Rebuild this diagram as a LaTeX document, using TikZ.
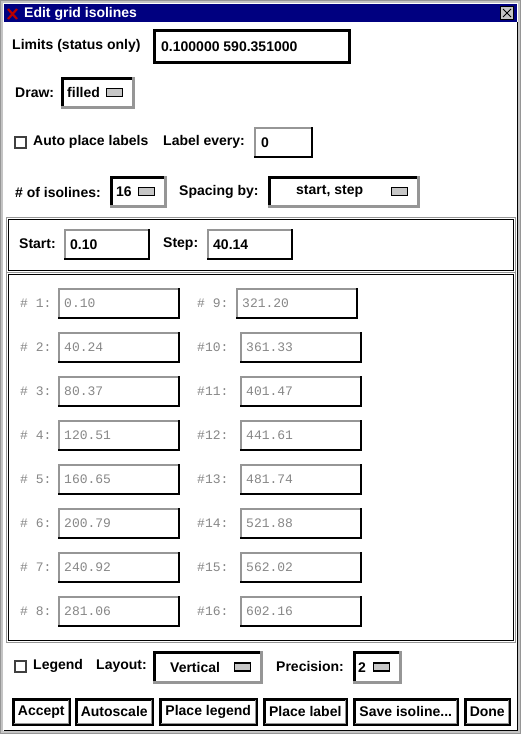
\documentclass[tikz,border=0pt]{standalone}
\usepackage{fontspec}
\setmainfont{Liberation Sans}
\newfontfamily\dimfont{Liberation Mono}
\usetikzlibrary{positioning}
\definecolor{titlenavy}{RGB}{0,0,128}
\definecolor{edgegray}{RGB}{150,150,150}
\definecolor{framegray}{RGB}{196,196,196}
\definecolor{dimgray}{RGB}{135,135,135}
\definecolor{xred}{RGB}{185,0,0}
% two-tone edge round a box node
\newcommand{\bevel}[4][2pt]{%
  \draw[#3, line width=#1, line cap=rect] (#2.south west) -- (#2.north west) -- (#2.north east);
  \draw[#4, line width=#1, line cap=rect] (#2.north east) -- (#2.south east) -- (#2.south west);}
\tikzset{
  lbl/.style={anchor=west, inner sep=0pt, font=\bfseries\fontsize{14}{16}\selectfont},
  dimlbl/.style={anchor=west, inner sep=0pt, text=dimgray, font=\dimfont\fontsize{13}{15}\selectfont},
  box/.style 2 args={anchor=north west, inner sep=0pt, minimum width=#1, minimum height=#2},
  ind/.style={inner sep=0pt, minimum width=16pt, minimum height=8pt, fill=gray!45, draw=black, line width=1.5pt},
  chk/.style={anchor=north west, inner sep=0pt, minimum size=11pt, draw=black!75, line width=1.5pt},
  panel/.style={draw=black, line width=1pt},
  btn/.style={anchor=north west, inner sep=0pt, minimum height=25pt, draw=black, line width=2.5pt,
    font=\bfseries\fontsize{14}{16}\selectfont}
}
\begin{document}
\begin{tikzpicture}[x=1pt,y=-1pt]
    \useasboundingbox (0,0) rectangle (521,734);
    % window frame and title bar
    \fill[white] (0,0) rectangle (521,734);
    \draw[framegray, line width=3pt] (1.5,1.5) rectangle (519.5,732.5);
    \draw[edgegray, line width=1pt] (0.5,0.5) rectangle (520.5,733.5);
    \draw[black, line width=1pt] (3.5,730.5) -- (517.5,730.5) -- (517.5,22);
    \fill[titlenavy] (4,4) rectangle (517,22);
    \draw[xred, line width=2.2pt] (8,9) -- (17,19) (17,9) -- (8,19);
    \node[lbl, text=white] (title) at (24,13.5) {Edit grid isolines};
    \node[box={13pt}{13pt}, fill=framegray, draw=black, line width=1pt] (close) at (500,6) {};
    \draw[line width=1pt] ([shift={(3,3)}]close.north west) -- ([shift={(-3,-3)}]close.south east)
        ([shift={(3,-3)}]close.south west) -- ([shift={(-3,3)}]close.north east);
    % limits and draw mode
    \node[lbl] (limits) at (12,46) {Limits (status only)};
    \node[box={195pt}{32pt}] (limbox) at (154,30) {};
    \node[lbl, right=7pt of limbox.west] (limval) {0.100000 590.351000};
    \bevel[3pt]{limbox}{black}{black}
    \node[lbl] (drawlbl) at (15,93) {Draw:};
    \node[box={71pt}{29pt}] (drawmenu) at (62,78) {};
    \node[lbl, right=5pt of drawmenu.west] (drawval) {filled};
    \node[ind, left=10pt of drawmenu.east] (drawind) {};
    \bevel[3pt]{drawmenu}{black}{edgegray}
    % labels
    \node[chk] (autochk) at (14,136) {};
    \node[lbl] (autolbl) at (33,142) {Auto place labels};
    \node[lbl] (everylbl) at (163,142) {Label every:};
    \node[box={57pt}{29pt}] (everybox) at (255,128) {};
    \node[lbl, right=6pt of everybox.west] (everyval) {0};
    \bevel{everybox}{edgegray}{black}
    % number and spacing
    \node[lbl] (numlbl) at (15,192) {\# of isolines:};
    \node[box={54pt}{29pt}] (nummenu) at (111,177) {};
    \node[lbl, right=5pt of nummenu.west] (numval) {16};
    \node[ind, left=10pt of nummenu.east] (numind) {};
    \bevel[3pt]{nummenu}{black}{edgegray}
    \node[lbl] (spacelbl) at (179,192) {Spacing by:};
    \node[box={149pt}{29pt}] (spacemenu) at (269,177) {};
    \node[lbl, right=27pt of spacemenu.west] (spaceval) {start, step};
    \node[ind, left=10pt of spacemenu.east] (spaceind) {};
    \bevel[3pt]{spacemenu}{black}{edgegray}
    % start / step panel
    \node[box={505pt}{51pt}, panel] (startpanel) at (8,219) {};
    \draw[edgegray] ([shift={(-1.5,-1.5)}]startpanel.north west) rectangle ([shift={(1.5,1.5)}]startpanel.south east);
    \node[lbl] (startlbl) at (19,244) {Start:};
    \node[box={84pt}{29pt}] (startbox) at (65,230) {};
    \node[lbl, right=5pt of startbox.west] (startval) {0.10};
    \bevel{startbox}{edgegray}{black}
    \node[lbl] (steplbl) at (163,244) {Step:};
    \node[box={84pt}{29pt}] (stepbox) at (208,230) {};
    \node[lbl, right=5pt of stepbox.west] (stepval) {40.14};
    \bevel{stepbox}{edgegray}{black}
    % isoline values
    \node[box={505pt}{366pt}, panel] (listpanel) at (8,274) {};
    \draw[edgegray] ([shift={(-1.5,-1.5)}]listpanel.north west) rectangle ([shift={(1.5,1.5)}]listpanel.south east);
    \foreach \i/\a/\b/\xr [count=\r from 0] in {1/0.10/321.20/237, 2/40.24/361.33/241, 3/80.37/401.47/241,
        4/120.51/441.61/241, 5/160.65/481.74/241, 6/200.79/521.88/241, 7/240.92/562.02/241, 8/281.06/602.16/241} {
        \pgfmathtruncatemacro\j{\i+8}
        \node[dimlbl] (nl\i) at (20,303+44*\r) {\# \i:};
        \node[box={120pt}{29pt}] (vl\i) at (59,289+44*\r) {};
        \node[dimlbl, right=5pt of vl\i.west] (tl\i) {\a};
        \bevel{vl\i}{edgegray}{black}
        \node[dimlbl] (nr\i) at (197,303+44*\r) {\ifnum\j<10 \# \j:\else\#\j:\fi};
        \node[box={120pt}{29pt}] (vr\i) at (\xr,289+44*\r) {};
        \node[dimlbl, right=5pt of vr\i.west] (tr\i) {\b};
        \bevel{vr\i}{edgegray}{black}
    }
    % legend row
    \node[chk] (legchk) at (14,660) {};
    \node[lbl] (leglbl) at (33,666) {Legend};
    \node[lbl] (layoutlbl) at (96,666) {Layout:};
    \node[box={107pt}{30pt}] (layoutmenu) at (154,652) {};
    \node[lbl, right=16pt of layoutmenu.west] (layoutval) {Vertical};
    \node[ind, left=10pt of layoutmenu.east] (layoutind) {};
    \bevel[3pt]{layoutmenu}{black}{edgegray}
    \node[lbl] (preclbl) at (276,666) {Precision:};
    \node[box={46pt}{30pt}] (precmenu) at (354,652) {};
    \node[lbl, right=4pt of precmenu.west] (precval) {2};
    \node[ind, left=10pt of precmenu.east] (precind) {};
    \bevel[3pt]{precmenu}{black}{edgegray}
    % buttons
    \foreach \nm/\x/\w/\t in {accept/12/56/Accept, autoscale/75/76/Autoscale, placeleg/159/96/Place legend,
        placelab/263/82/Place label, saveiso/353/103/{Save isoline{.}{.}{.}}, done/464/44/Done} {
        \node[btn, minimum width=\w pt] (\nm) at (\x,698) {\t};
        \draw[edgegray, line width=1pt] ([shift={(-2,2)}]\nm.north east) -- ([shift={(-2,-2)}]\nm.south east)
            -- ([shift={(2,-2)}]\nm.south west);
    }
\end{tikzpicture}
\end{document}
